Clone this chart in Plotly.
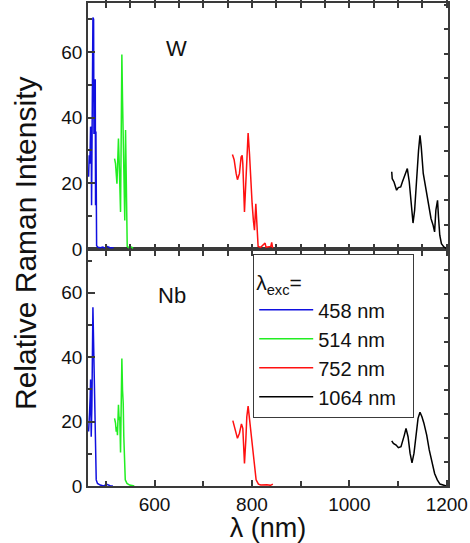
import plotly.graph_objects as go

# ---------------- data ----------------
# W panel
w458_x = [464.7, 466.0, 467.4, 468.8, 470.0, 470.8, 472.0, 473.6, 475.0, 475.7, 477.0, 478.4, 479.0, 479.8, 481.2, 484.0, 488.7, 494.0, 498.7, 502.0, 509.0, 516.0]
w458_y = [22.0, 28.5, 26.0, 37.2, 36.8, 13.3, 35.0, 70.5, 70.0, 35.0, 40.0, 51.7, 13.3, 35.8, 1.0, 0.5, 0.4, 0.6, 0.2, 0.8, 0.4, 0.4]

w514_x = [518.0, 520.0, 521.4, 522.9, 524.0, 526.0, 527.4, 529.0, 530.3, 531.7, 533.0, 534.4, 535.8, 537.0, 539.0, 540.6, 542.0, 544.0, 547.0, 553.0, 556.0]
w514_y = [27.5, 26.0, 23.0, 19.9, 24.5, 33.6, 27.0, 21.0, 11.3, 35.1, 59.2, 45.3, 33.1, 18.9, 8.7, 36.2, 14.8, 0.8, 0.4, 0.6, 0.2]

w752_x = [760.0, 763.5, 767.6, 770.3, 774.4, 777.8, 780.0, 781.3, 784.7, 786.7, 789.5, 792.2, 795.0, 798.4, 800.4, 803.0, 805.2, 808.0, 810.0, 812.7, 818.0, 827.0, 829.0, 838.7, 840.6, 842.5]
w752_y = [28.8, 27.2, 23.0, 21.1, 23.0, 28.0, 28.5, 26.0, 11.3, 18.9, 29.0, 35.3, 29.0, 15.8, 13.8, 8.7, 5.7, 13.8, 8.7, 0.8, 0.5, 1.8, 0.5, 0.8, 2.0, 0.3]

w1064_x = [1087.0, 1088.0, 1091.7, 1097.0, 1100.5, 1105.4, 1108.8, 1114.0, 1119.0, 1123.0, 1127.0, 1130.7, 1134.0, 1138.0, 1142.0, 1145.0, 1147.6, 1151.7, 1157.0, 1162.0, 1167.6, 1172.0, 1175.0, 1177.6, 1181.0, 1183.0, 1185.6, 1189.0, 1194.0, 1199.0]
w1064_y = [23.5, 21.4, 20.4, 17.9, 18.7, 18.9, 20.4, 22.4, 24.5, 20.4, 12.8, 7.9, 11.8, 21.9, 30.0, 34.6, 31.0, 23.0, 18.4, 14.8, 9.3, 7.2, 5.2, 11.8, 14.8, 9.7, 4.2, 1.6, 0.6, 0.2]

# Nb panel
nb458_x = [464.7, 465.4, 466.7, 468.0, 468.8, 470.1, 471.5, 473.6, 475.0, 476.4, 477.7, 479.0, 480.4, 483.0, 488.7, 495.5, 502.0, 509.0, 514.6]
nb458_y = [16.9, 22.0, 22.7, 27.7, 33.1, 15.3, 25.2, 55.5, 42.2, 41.5, 26.7, 15.3, 1.9, 0.8, 0.3, 0.0, 0.5, 0.1, 0.0]

nb514_x = [518.0, 520.0, 521.4, 522.9, 524.0, 526.0, 527.4, 528.7, 530.3, 531.7, 533.0, 534.4, 535.8, 537.0, 538.6, 540.0, 543.5, 549.0, 558.5]
nb514_y = [21.0, 19.5, 16.9, 18.4, 15.8, 25.2, 20.5, 21.5, 10.4, 23.6, 39.6, 29.8, 25.7, 15.3, 7.0, 1.9, 0.8, 0.3, 0.0]

nb752_x = [760.8, 765.5, 770.3, 774.4, 778.5, 781.3, 784.7, 787.5, 789.5, 792.2, 795.0, 798.4, 801.8, 805.2, 808.6, 813.4, 818.0, 830.6, 838.0, 843.0]
nb752_y = [20.3, 17.4, 14.8, 16.4, 19.3, 17.9, 7.0, 14.3, 21.5, 24.8, 20.5, 16.4, 10.2, 5.0, 1.9, 0.6, 0.3, 0.4, 0.2, 0.6]

nb1064_x = [1087.0, 1090.4, 1096.0, 1100.6, 1106.0, 1109.6, 1112.9, 1116.3, 1120.5, 1124.6, 1128.6, 1132.7, 1136.8, 1141.0, 1145.0, 1149.0, 1153.0, 1158.8, 1164.0, 1169.6, 1175.0, 1180.5, 1186.0, 1192.5, 1199.0]
nb1064_y = [14.0, 13.2, 12.7, 11.9, 12.2, 13.8, 15.8, 17.9, 15.3, 10.2, 7.2, 10.2, 15.3, 21.0, 22.9, 21.5, 19.5, 15.8, 11.2, 7.0, 3.9, 1.9, 0.6, 0.3, 0.0]

legend_names = ["458 nm", "514 nm", "752 nm", "1064 nm"]
colors = ["#1010e0", "#22ee22", "#ff1010", "#000000"]

x_range = [463.5, 1202.5]
y_top_range = [0, 74.9]
y_bot_range = [0, 73.6]

# ---------------- figure ----------------
FONT = "Liberation Sans, Arial, sans-serif"
AX = "#3a3a3a"
L, R, T, B, W, H = 88, 22, 3, 57, 470, 543

fig = go.Figure()

top_sets = [(w458_x, w458_y), (w514_x, w514_y), (w752_x, w752_y), (w1064_x, w1064_y)]
bot_sets = [(nb458_x, nb458_y), (nb514_x, nb514_y), (nb752_x, nb752_y), (nb1064_x, nb1064_y)]

for (xs, ys), name, c in zip(top_sets, legend_names, colors):
    fig.add_trace(go.Scatter(x=xs, y=ys, mode="lines", line=dict(color=c, width=1.5),
                             name=name, showlegend=False, xaxis="x2", yaxis="y2"))
for (xs, ys), name, c in zip(bot_sets, legend_names, colors):
    fig.add_trace(go.Scatter(x=xs, y=ys, mode="lines", line=dict(color=c, width=1.5),
                             name=name + "\u00a0\u00a0", showlegend=True, xaxis="x", yaxis="y"))

# empty traces so the right-hand tick axes get drawn
fig.add_trace(go.Scatter(x=[], y=[], xaxis="x", yaxis="y3", showlegend=False))
fig.add_trace(go.Scatter(x=[], y=[], xaxis="x2", yaxis="y4", showlegend=False))

split = 0.4907
common_ax = dict(showline=True, linecolor=AX, linewidth=1.5, showgrid=False, zeroline=False,
                 ticks="inside", tickcolor=AX, tickwidth=1.5, automargin=False,
                 tickfont=dict(family=FONT, size=19, color="#111"))
minor_y = dict(tickmode="array", tickvals=[10, 30, 50, 70], ticklen=4,
               ticks="inside", tickcolor=AX, tickwidth=1.5)
right_ticks = dict(side="right", showgrid=False, zeroline=False, showline=False, ticks="inside",
                   tickmode="linear", tick0=0, ticklen=4, tickcolor=AX, tickwidth=1.5,
                   showticklabels=False, automargin=False)

fig.update_layout(
    width=W, height=H,
    margin=dict(l=L, r=R, t=T, b=B, autoexpand=False),
    paper_bgcolor="white", plot_bgcolor="white",
    font=dict(family=FONT, color="#111"),
    xaxis=dict(**common_ax, range=x_range, anchor="y", mirror=True,
               tickmode="array", tickvals=[600, 800, 1000, 1200], ticklen=6,
               minor=dict(tickmode="array", tickvals=[500, 700, 900, 1100], ticklen=5,
                          ticks="inside", tickcolor=AX, tickwidth=1.5),
               title=dict(text="λ (nm)", font=dict(family=FONT, size=27), standoff=4)),
    xaxis2=dict(**common_ax, range=x_range, anchor="y2", matches="x", mirror="allticks",
                tickmode="linear", tick0=500, dtick=50, ticklen=5, showticklabels=False),
    yaxis=dict(**common_ax, range=y_bot_range, domain=[0, split], anchor="x", mirror=True,
               tickmode="array", tickvals=[0, 20, 40, 60], ticklen=7, minor=minor_y),
    yaxis2=dict(**common_ax, range=y_top_range, domain=[split, 1], anchor="x2", mirror=True,
                tickmode="array", tickvals=[0, 20, 40, 60], ticklen=7, minor=minor_y),
    yaxis3=dict(**right_ticks, overlaying="y", anchor="x", range=y_bot_range, dtick=7.45),
    yaxis4=dict(**right_ticks, overlaying="y2", anchor="x2", range=y_top_range, dtick=7.43),
    legend=dict(x=(253 - L) / (W - L - R), y=(H - B - 254) / (H - T - B),
                xanchor="left", yanchor="top",
                bgcolor="white", bordercolor=AX, borderwidth=1.2,
                font=dict(family=FONT, size=20, color="#111"),
                title=dict(text="<span style='font-size:21px'>λ<sub>exc</sub>=</span>",
                           font=dict(family=FONT, size=27)),
                tracegroupgap=0, itemwidth=54),
)

# text labels placed at pixel positions measured on the reference
pw, ph = W - L - R, H - T - B
def px2paper(px, py):
    return (px - L) / pw, (H - B - py) / ph

for text, px, py, size, angle in [("W", 176, 48.5, 22, 0), ("Nb", 172, 295, 22, 0),
                                  ("Relative Raman Intensity", 25, 243, 30, -90)]:
    ax_, ay_ = px2paper(px, py)
    fig.add_annotation(text=text, x=ax_, y=ay_, xref="paper", yref="paper", showarrow=False,
                       xanchor="center", yanchor="middle", textangle=angle,
                       font=dict(family=FONT, size=size, color="#111"))

fig.write_html("out.html", config={"displayModeBar": False},
               post_script="document.body.style.margin='0';")
